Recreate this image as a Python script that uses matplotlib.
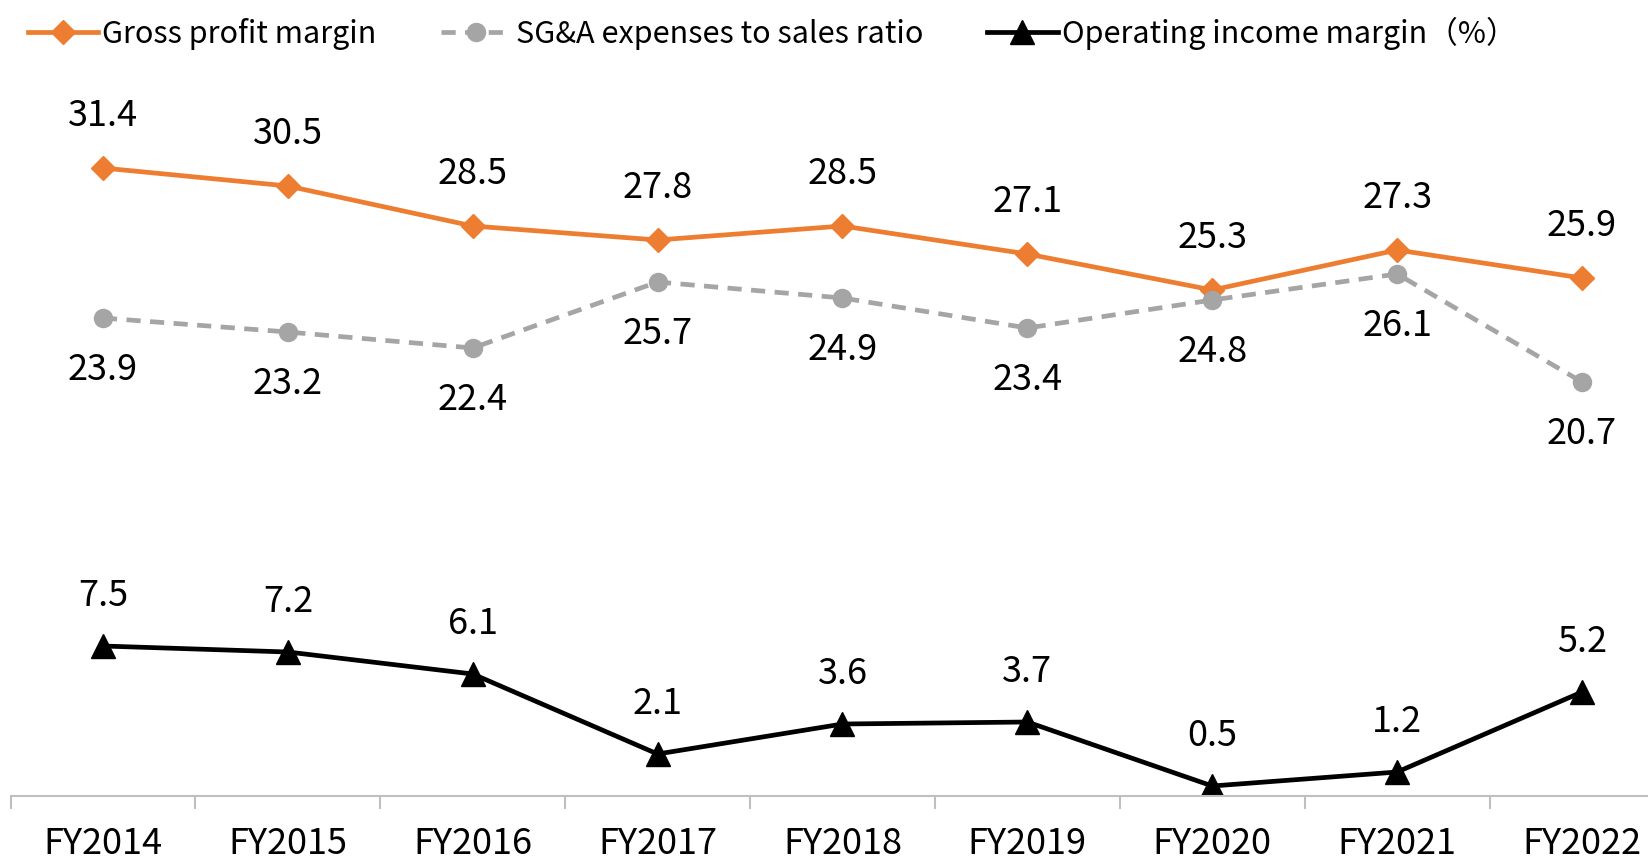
import matplotlib
matplotlib.use("Agg")
import matplotlib.pyplot as plt
from matplotlib import font_manager

years = ["FY2014", "FY2015", "FY2016", "FY2017", "FY2018",
         "FY2019", "FY2020", "FY2021", "FY2022"]
gross_margin = [31.4, 30.5, 28.5, 27.8, 28.5, 27.1, 25.3, 27.3, 25.9]
sga_ratio = [23.9, 23.2, 22.4, 25.7, 24.9, 23.4, 24.8, 26.1, 20.7]
op_margin = [7.5, 7.2, 6.1, 2.1, 3.6, 3.7, 0.5, 1.2, 5.2]

labels = ["Gross profit margin", "SG&A expenses to sales ratio",
          "Operating income margin（%）"]

names = {f.name for f in font_manager.fontManager.ttflist}
fams = [f for f in ["Noto Sans CJK JP", "DejaVu Sans"] if f in names]
plt.rcParams["font.family"] = fams

ORANGE = "#ED7D31"
GRAY = "#A5A5A5"


def main() -> None:
    fig = plt.figure(figsize=(16.49, 8.62), dpi=100)
    ax = fig.add_axes([10.5 / 1649, 1 - 797 / 862, 1664 / 1649, 700 / 862])

    x = range(len(years))
    ax.plot(x, gross_margin, color=ORANGE, lw=3.4, marker="D", ms=12,
            label=labels[0])
    ax.plot(x, sga_ratio, color=GRAY, lw=3.4, ls=(0, (3, 2)), marker="o",
            ms=13, label=labels[1])
    ax.plot(x, op_margin, color="black", lw=3.4, marker="^", ms=17,
            label=labels[2])

    for i in x:
        ax.annotate(f"{gross_margin[i]:.1f}", (i, gross_margin[i]),
                    xytext=(0, 38), textcoords="offset points",
                    ha="center", va="center", fontsize=26)
        ax.annotate(f"{sga_ratio[i]:.1f}", (i, sga_ratio[i]),
                    xytext=(0, -37), textcoords="offset points",
                    ha="center", va="center", fontsize=26)
        ax.annotate(f"{op_margin[i]:.1f}", (i, op_margin[i]),
                    xytext=(0, 37), textcoords="offset points",
                    ha="center", va="center", fontsize=26)

    ax.set_xlim(-0.5, len(years) - 0.5)
    ax.set_ylim(0, 35)
    ax.set_yticks([])
    for side in ["top", "right", "left"]:
        ax.spines[side].set_visible(False)
    ax.spines["bottom"].set_color("#BFBFBF")
    ax.spines["bottom"].set_linewidth(1.5)

    ax.set_xticks([i - 0.5 for i in range(len(years) + 1)], minor=False)
    ax.set_xticklabels([])
    ax.tick_params(axis="x", which="major", length=9, width=1.5,
                   color="#BFBFBF")
    ax.set_xticks(list(x), minor=True)
    ax.set_xticklabels(years, minor=True, fontsize=26)
    ax.tick_params(axis="x", which="minor", length=0, pad=21)

    fig.legend(loc="upper left", bbox_to_anchor=(0.0, 1.012), ncol=3,
               frameon=False, fontsize=22, handlelength=2.3,
               handletextpad=0.15, columnspacing=2.1)

    fig.savefig("out.png", dpi=100)


if __name__ == "__main__":
    main()
